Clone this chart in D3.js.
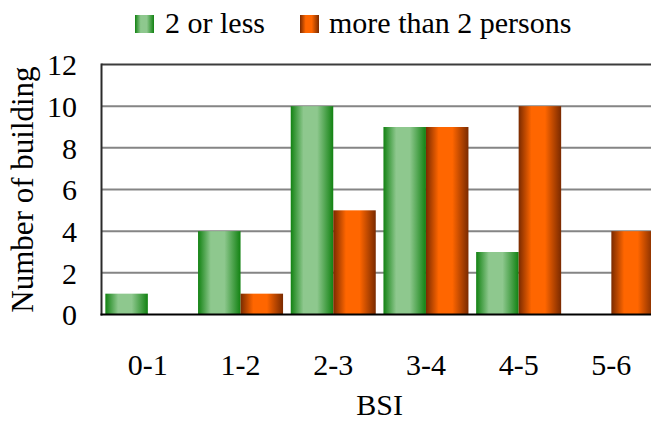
<!DOCTYPE html>
<html><head><meta charset="utf-8">
<script src="https://cdn.jsdelivr.net/npm/d3@7"></script>
<style>
html,body{margin:0;padding:0;background:#fff;overflow:hidden}
svg{display:block}
</style></head><body>
<svg id="chart" width="651" height="421" font-family="Liberation Serif"></svg>
<script>
const categories = ["0-1","1-2","2-3","3-4","4-5","5-6"];
const seriesNames = ["2 or less","more than 2 persons"];
const lessValues = [1,4,10,9,3,0];
const moreValues = [0,1,5,9,10,4];
const yTicks = [0,2,4,6,8,10,12];

const FONT = "Liberation Serif";
const W = 651, H = 421;
const m = {left:101.5, top:64.5, bottom:314.5, right:657.7};
const svg = d3.select("#chart");
const defs = svg.append("defs");

function grad(id, edge, mid) {
  const g = defs.append("linearGradient").attr("id", id)
    .attr("x1","0%").attr("x2","100%").attr("y1","0%").attr("y2","0%");
  [[0,edge],[0.3,mid],[0.62,mid],[1,edge]].forEach(([o,c]) =>
    g.append("stop").attr("offset", o).attr("stop-color", c));
}
grad("gGreen", "#128212", "#8ec88e");
grad("gOrange", "#7a2a00", "#ff6600");
const fills = ["url(#gGreen)","url(#gOrange)"];

const x0 = d3.scaleBand().domain(categories).range([m.left, m.right])
  .paddingInner(0.083).paddingOuter(0.0415);
const x1 = d3.scaleBand().domain(seriesNames).range([0, x0.bandwidth()]);
const y = d3.scaleLinear().domain([0,12]).range([m.bottom, m.top]);

// gridlines
svg.append("g").selectAll("line").data(yTicks.filter(t => t>0 && t<12)).join("line")
  .attr("x1", m.left).attr("x2", W)
  .attr("y1", d => y(d)).attr("y2", d => y(d))
  .attr("stroke", "#858585").attr("stroke-width", 2);
svg.append("line").attr("x1", m.left).attr("x2", W)
  .attr("y1", y(12)).attr("y2", y(12))
  .attr("stroke", "#3c3c3c").attr("stroke-width", 2);

// bars
const data = categories.map((c,i) => ({c, vals:[lessValues[i], moreValues[i]]}));
const grp = svg.append("g").selectAll("g").data(data).join("g")
  .attr("transform", d => `translate(${x0(d.c)},0)`);
grp.selectAll("rect").data(d => d.vals.map((v,j) => ({v, s:seriesNames[j], j})))
  .join("rect")
  .attr("x", d => x1(d.s)).attr("width", x1.bandwidth())
  .attr("y", d => y(d.v)).attr("height", d => y(0) - y(d.v))
  .attr("fill", d => fills[d.j]);

// axes lines
svg.append("line").attr("x1", m.left).attr("x2", m.left)
  .attr("y1", y(12)-1).attr("y2", y(0)+1)
  .attr("stroke", "#2a2a2a").attr("stroke-width", 2);
svg.append("line").attr("x1", m.left-1).attr("x2", W)
  .attr("y1", y(0)).attr("y2", y(0))
  .attr("stroke", "#000").attr("stroke-width", 2);

// y axis labels
const yAxis = d3.axisLeft(y).tickValues(yTicks).tickSize(0).tickPadding(0)
  .tickFormat(d3.format("d"));
const ya = svg.append("g").attr("transform", `translate(77,0)`).call(yAxis)
  .attr("font-family", FONT).attr("font-size", 30);
ya.select(".domain").remove();
ya.selectAll("text").attr("fill", "#000").attr("dy", "0.34em");

// x axis labels
const xAxis = d3.axisBottom(x0).tickSize(0).tickPadding(0);
const xa = svg.append("g").call(xAxis).attr("font-family", FONT).attr("font-size", 30);
xa.select(".domain").remove();
xa.selectAll("text").attr("y", 375).attr("dy", null).attr("fill", "#000");

// axis titles
svg.append("text").attr("x", (m.left + m.right)/2).attr("y", 415)
  .attr("text-anchor", "middle").attr("font-family", FONT).attr("font-size", 30).text("BSI");
svg.append("text").attr("transform", `translate(33,${(m.top+m.bottom)/2}) rotate(-90)`)
  .attr("text-anchor", "middle").attr("font-family", FONT).attr("font-size", 31)
  .text("Number of building");

// legend
const legX = [135, 300], legTextX = [165, 329];
const leg = svg.append("g").attr("font-family", FONT).attr("font-size", 30);
seriesNames.forEach((s,i) => {
  leg.append("rect").attr("x", legX[i]).attr("y", 15).attr("width", 19).attr("height", 18)
    .attr("fill", fills[i]);
  leg.append("text").attr("x", legTextX[i]).attr("y", 33).text(s);
});
</script>
</body></html>
